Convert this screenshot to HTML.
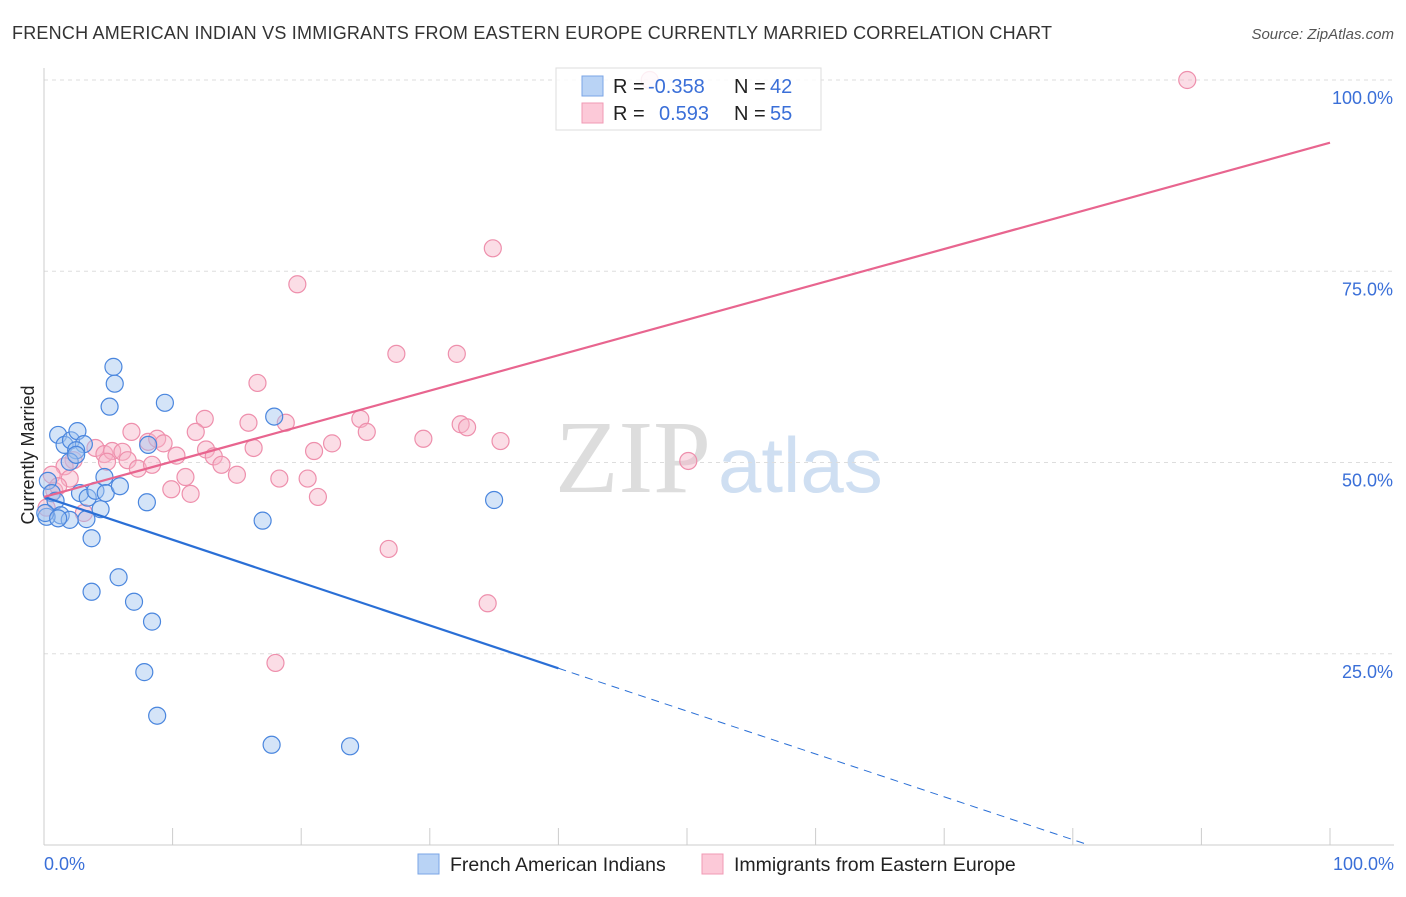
<!DOCTYPE html>
<html><head><meta charset="utf-8"><style>
body{margin:0;background:#fff;font-family:"Liberation Sans",sans-serif;}
</style></head><body>
<svg id="chart" width="1406" height="892" xmlns="http://www.w3.org/2000/svg">
<text x="12" y="39" font-size="18" fill="#333" textLength="1040">FRENCH AMERICAN INDIAN VS IMMIGRANTS FROM EASTERN EUROPE CURRENTLY MARRIED CORRELATION CHART</text>
<text x="1394" y="39" font-size="15" fill="#555" font-style="italic" text-anchor="end">Source: ZipAtlas.com</text>
<text x="555" y="492" font-size="104" fill="#ddd" font-family="Liberation Serif,serif">ZIP</text>
<text x="718" y="492" font-size="78" fill="#cfdff2">atlas</text>
<g id="grid"></g>
<g id="axes"></g>
<g id="pts"></g>
<g id="lines"></g>
<g>
<rect x="556" y="68" width="265" height="62" fill="#fff" fill-opacity="0.85" stroke="#ddd"/>
<rect x="582" y="76" width="21" height="20" fill="#b9d3f5" stroke="#7aa5e6"/>
<rect x="582" y="103" width="21" height="20" fill="#fcc9d8" stroke="#f09ab4"/>
<text x="613" y="93" font-size="20" fill="#222">R = </text><text x="648" y="93" font-size="20" fill="#3a6fd8">-0.358</text>
<text x="734" y="93" font-size="20" fill="#222">N = </text><text x="770" y="93" font-size="20" fill="#3a6fd8">42</text>
<text x="613" y="120" font-size="20" fill="#222">R = </text><text x="659" y="120" font-size="20" fill="#3a6fd8">0.593</text>
<text x="734" y="120" font-size="20" fill="#222">N = </text><text x="770" y="120" font-size="20" fill="#3a6fd8">55</text>
</g>
<text transform="translate(34,455) rotate(-90)" font-size="18" fill="#222" text-anchor="middle">Currently Married</text>
<text x="44" y="870" font-size="18" fill="#3a6fd8">0.0%</text>
<text x="1394" y="870" font-size="18" fill="#3a6fd8" text-anchor="end">100.0%</text>
<g>
<rect x="418" y="854" width="21" height="20" fill="#b9d3f5" stroke="#7aa5e6"/>
<text x="450" y="871" font-size="19.5" fill="#222">French American Indians</text>
<rect x="702" y="854" width="21" height="20" fill="#fcc9d8" stroke="#f09ab4"/>
<text x="734" y="871" font-size="19.5" fill="#222">Immigrants from Eastern Europe</text>
</g>
</svg>
<script>
const yTicks=[25,50,75,100];
const yTickLabels=["25.0%","50.0%","75.0%","100.0%"];
const blueX=[1.1,1.6,2.1,2.6,3.1,2.5,2.0,0.3,0.6,0.9,1.3,0.2,2.0,2.8,3.4,4.0,4.4,4.7,4.8,5.9,3.3,3.7,8.0,8.1,5.4,5.5,5.1,9.4,17.9,17.0,35.0,5.8,3.7,7.0,8.4,7.8,8.8,17.7,23.8,0.1,1.1,2.5];
const blueY=[53.6,52.3,52.9,54.1,52.4,51.6,50.1,47.6,46.0,45.0,43.1,42.9,42.5,46.0,45.4,46.3,43.9,48.1,46.0,46.9,42.6,40.1,44.8,52.3,62.5,60.3,57.3,57.8,56.0,42.4,45.1,35.0,33.1,31.8,29.2,22.6,16.9,13.1,12.9,43.4,42.7,51.0];
const pinkX=[47.1,88.9,34.9,19.7,27.4,32.1,16.6,12.5,15.9,18.8,24.6,11.8,25.1,22.4,29.5,32.4,32.9,35.5,6.8,8.1,8.8,9.3,4.0,4.7,5.3,6.1,6.5,4.9,7.3,8.4,10.3,12.6,13.2,13.8,15.0,16.3,21.0,18.3,20.5,11.0,9.9,11.4,21.3,50.1,2.3,1.6,2.0,0.6,0.8,3.1,26.8,34.5,18.0,1.1,0.2];
const pinkY=[100,100,78.0,73.3,64.2,64.2,60.4,55.7,55.2,55.2,55.7,54.0,54.0,52.5,53.1,55.0,54.6,52.8,54.0,52.7,53.1,52.5,51.9,51.1,51.5,51.4,50.3,50.1,49.2,49.7,50.9,51.7,50.8,49.7,48.4,51.9,51.5,47.9,47.9,48.1,46.5,45.9,45.5,50.2,50.3,49.5,47.9,48.4,46.3,43.4,38.7,31.6,23.8,46.9,44.1];
const blueFit=[45.5,-0.56];
const pinkFit=[45.5,0.463];
const ns="http://www.w3.org/2000/svg";
const X=v=>44+v*12.86, Y=v=>845-v*7.65;
function mk(t,a,p){const e=document.createElementNS(ns,t);for(const k in a)e.setAttribute(k,a[k]);p.appendChild(e);return e;}
const grid=document.getElementById('grid'),axes=document.getElementById('axes'),pts=document.getElementById('pts'),lines=document.getElementById('lines');
yTicks.forEach((t,i)=>{
 const g=mk('line',{x1:44,x2:1394,y1:Y(t),y2:Y(t),stroke:'#ddd','stroke-dasharray':'4,4'},grid);
 
 
 const l=mk('text',{x:1393,y:Y(t)+24,'font-size':18,fill:'#3a6fd8','text-anchor':'end'},grid);
 l.textContent=yTickLabels[i];
 
 
});
mk('line',{x1:44,x2:44,y1:68,y2:845,stroke:'#ccc'},axes);
mk('line',{x1:44,x2:1394,y1:845,y2:845,stroke:'#ccc'},axes);
for(let i=1;i<=10;i++){const t=mk('line',{x1:X(i*10),x2:X(i*10),y1:828,y2:845,stroke:'#ccc'},axes);
 
 }
function dots(xs,ys,fill,stroke,name){xs.forEach((x,i)=>{const c=mk('circle',{cx:X(x),cy:Y(ys[i]),r:8.5,fill:fill,'fill-opacity':0.45,stroke:stroke,'stroke-width':1.2},pts);
 
 });}
dots(pinkX,pinkY,'#f7b3c8','#ee8fac','pink-point');
dots(blueX,blueY,'#9fc3f0','#4a86de','blue-point');
const f=(fit,x)=>fit[0]+fit[1]*x;
let l1=mk('line',{x1:X(0),y1:Y(f(blueFit,0)),x2:X(40),y2:Y(f(blueFit,40)),stroke:'#2a6fd6','stroke-width':2.2},lines);


let xe=-blueFit[0]/blueFit[1];
let l2=mk('line',{x1:X(40),y1:Y(f(blueFit,40)),x2:X(xe),y2:Y(0),stroke:'#2a6fd6','stroke-width':1,'stroke-dasharray':'8,6'},lines);


let l3=mk('line',{x1:X(0),y1:Y(f(pinkFit,0)),x2:X(100),y2:Y(f(pinkFit,100)),stroke:'#e8658f','stroke-width':2.2},lines);


</script>
</body></html>
